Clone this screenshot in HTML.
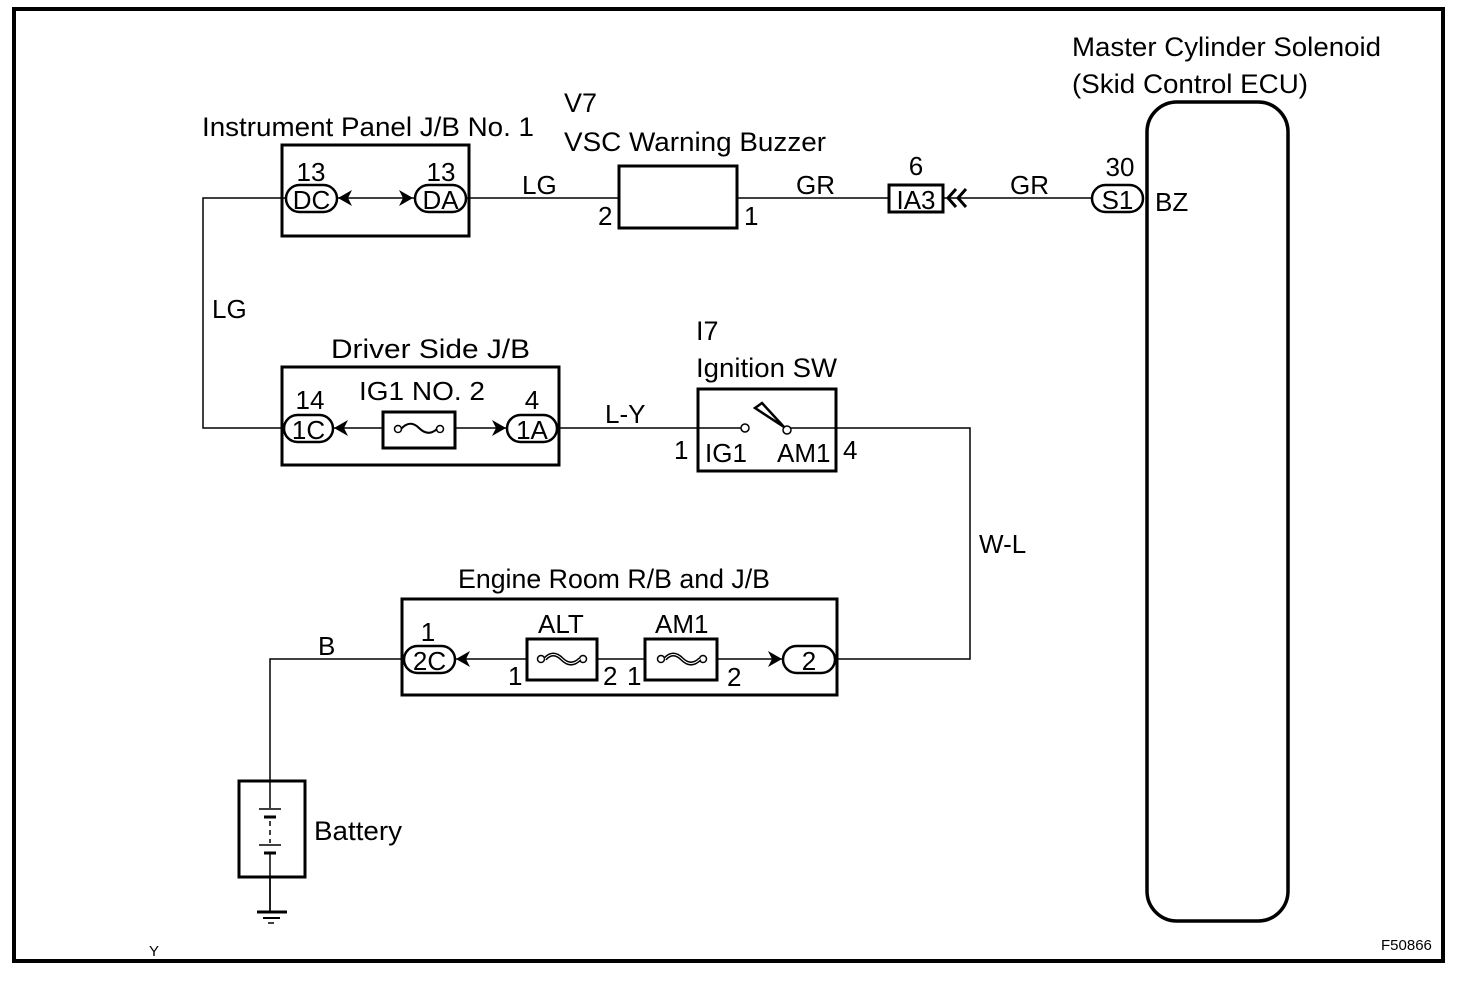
<!DOCTYPE html>
<html><head><meta charset="utf-8"><style>
html,body{margin:0;padding:0;background:#fff;}
svg{display:block;}
text{font-family:"Liberation Sans",sans-serif;fill:#000;}
</style></head><body>
<svg width="1472" height="984" viewBox="0 0 1472 984" xmlns="http://www.w3.org/2000/svg">
<rect x="14" y="9" width="1429" height="952" fill="none" stroke="#000" stroke-width="4"/>

<g stroke="#000" stroke-width="1.5" fill="none">
<polyline points="286,198 203,198 203,428 284,428"/>
<line x1="337" y1="198" x2="415" y2="198"/>
<line x1="466" y1="198" x2="619" y2="198"/>
<line x1="737" y1="198" x2="889" y2="198"/>
<line x1="943" y1="198" x2="1092" y2="198"/>
<line x1="333" y1="428" x2="507" y2="428"/>
<line x1="557" y1="428" x2="745" y2="428"/>
<polyline points="787,428 970,428 970,659 835,659"/>
<line x1="455" y1="659" x2="783" y2="659"/>
<polyline points="404,659 270,659 270,912"/>
</g>

<!-- Instrument panel JB -->
<rect x="282" y="145" width="187" height="91" fill="none" stroke="#000" stroke-width="3"/>
<text x="202" y="136" font-size="27" textLength="332" lengthAdjust="spacingAndGlyphs">Instrument Panel J/B No. 1</text>
<rect x="286" y="185" width="51" height="27" rx="13.5" fill="#fff" stroke="#000" stroke-width="2.5"/>
<text x="311.5" y="209" font-size="26" text-anchor="middle">DC</text>
<text x="311" y="181" font-size="26" text-anchor="middle">13</text>
<rect x="415" y="185" width="51" height="27" rx="13.5" fill="#fff" stroke="#000" stroke-width="2.5"/>
<text x="440.5" y="209" font-size="26" text-anchor="middle">DA</text>
<text x="441" y="181" font-size="26" text-anchor="middle">13</text>
<polygon points="338,198 352,190 348,198 352,206" fill="#000"/>
<polygon points="413,198 399,190 403,198 399,206" fill="#000"/>
<text x="522" y="194" font-size="26">LG</text>

<!-- Buzzer -->
<text x="564" y="112" font-size="27">V7</text>
<text x="564" y="151" font-size="27" textLength="262" lengthAdjust="spacingAndGlyphs">VSC Warning Buzzer</text>
<rect x="619" y="166" width="118" height="62" fill="#fff" stroke="#000" stroke-width="3"/>
<text x="598" y="225" font-size="26">2</text>
<text x="744" y="225" font-size="26">1</text>
<text x="796" y="194" font-size="26">GR</text>

<!-- IA3 -->
<rect x="889" y="185" width="54" height="27" fill="#fff" stroke="#000" stroke-width="3"/>
<text x="916" y="209" font-size="26" text-anchor="middle">IA3</text>
<text x="916" y="175" font-size="26" text-anchor="middle">6</text>
<polyline points="956,189 948,198 956,207" fill="none" stroke="#000" stroke-width="3"/>
<polyline points="966,189 958,198 966,207" fill="none" stroke="#000" stroke-width="3"/>
<text x="1010" y="194" font-size="26">GR</text>

<!-- S1 & ECU -->
<text x="1072" y="56" font-size="27" textLength="309" lengthAdjust="spacingAndGlyphs">Master Cylinder Solenoid</text>
<text x="1072" y="93" font-size="27" textLength="236" lengthAdjust="spacingAndGlyphs">(Skid Control ECU)</text>
<rect x="1147" y="102" width="141" height="819" rx="30" fill="none" stroke="#000" stroke-width="3.5"/>
<rect x="1092" y="185" width="51" height="27" rx="13.5" fill="#fff" stroke="#000" stroke-width="2.5"/>
<text x="1117.5" y="209" font-size="26" text-anchor="middle">S1</text>
<text x="1120" y="176" font-size="26" text-anchor="middle">30</text>
<text x="1155" y="211" font-size="26">BZ</text>

<text x="212" y="318" font-size="26">LG</text>

<!-- Driver side JB -->
<text x="331" y="358" font-size="27" textLength="199" lengthAdjust="spacingAndGlyphs">Driver Side J/B</text>
<rect x="282" y="367" width="277" height="98" fill="none" stroke="#000" stroke-width="3"/>
<rect x="284" y="415" width="49" height="27" rx="13.5" fill="#fff" stroke="#000" stroke-width="2.5"/>
<text x="308.5" y="439" font-size="26" text-anchor="middle">1C</text>
<text x="310" y="409" font-size="26" text-anchor="middle">14</text>
<polygon points="334,428 348,420 344,428 348,436" fill="#000"/>
<text x="359" y="400" font-size="26" textLength="126" lengthAdjust="spacingAndGlyphs">IG1 NO. 2</text>
<rect x="383" y="412" width="72" height="36" fill="#fff" stroke="#000" stroke-width="3"/>
<circle cx="398" cy="429" r="3.5" fill="#fff" stroke="#000" stroke-width="1.5"/>
<circle cx="440" cy="429" r="3.5" fill="#fff" stroke="#000" stroke-width="1.5"/>
<path d="M401,429 Q410,419 419,428 Q428,437 437,429" fill="none" stroke="#000" stroke-width="2"/>
<polygon points="506,428 492,420 496,428 492,436" fill="#000"/>
<rect x="507" y="415" width="50" height="27" rx="13.5" fill="#fff" stroke="#000" stroke-width="2.5"/>
<text x="532" y="439" font-size="26" text-anchor="middle">1A</text>
<text x="532" y="409" font-size="26" text-anchor="middle">4</text>
<text x="605" y="423" font-size="26">L-Y</text>

<!-- Ignition SW -->
<text x="696" y="340" font-size="27">I7</text>
<text x="696" y="377" font-size="27" textLength="141" lengthAdjust="spacingAndGlyphs">Ignition SW</text>
<rect x="698" y="389" width="138" height="82" fill="none" stroke="#000" stroke-width="3"/>
<circle cx="745" cy="428" r="4" fill="#fff" stroke="#000" stroke-width="1.5"/>
<circle cx="787" cy="430" r="4" fill="#fff" stroke="#000" stroke-width="1.5"/>
<polygon points="755,408 762,403 784,427" fill="#fff" stroke="#000" stroke-width="2.5"/>
<text x="674" y="459" font-size="26">1</text>
<text x="705" y="462" font-size="26">IG1</text>
<text x="777" y="462" font-size="26">AM1</text>
<text x="843" y="459" font-size="26">4</text>
<text x="979" y="553" font-size="26">W-L</text>

<!-- Engine room -->
<text x="458" y="588" font-size="27" textLength="312" lengthAdjust="spacingAndGlyphs">Engine Room R/B and J/B</text>
<rect x="402" y="599" width="435" height="96" fill="none" stroke="#000" stroke-width="3"/>
<rect x="404" y="646" width="51" height="27" rx="13.5" fill="#fff" stroke="#000" stroke-width="2.5"/>
<text x="429.5" y="670" font-size="26" text-anchor="middle">2C</text>
<text x="428" y="641" font-size="26" text-anchor="middle">1</text>
<polygon points="456,659 470,651 466,659 470,667" fill="#000"/>
<text x="538" y="633" font-size="26">ALT</text>
<rect x="527" y="639" width="70" height="41" fill="#fff" stroke="#000" stroke-width="3"/>
<circle cx="541" cy="659" r="3.5" fill="#fff" stroke="#000" stroke-width="1.5"/>
<circle cx="583" cy="659" r="3.5" fill="#fff" stroke="#000" stroke-width="1.5"/>
<path d="M545,659 Q553,650 562,659 Q571,668 580,659" fill="none" stroke="#000" stroke-width="4"/>
<path d="M545,659 Q553,650 562,659 Q571,668 580,659" fill="none" stroke="#fff" stroke-width="1"/>
<text x="655" y="633" font-size="26">AM1</text>
<rect x="645" y="639" width="72" height="41" fill="#fff" stroke="#000" stroke-width="3"/>
<circle cx="661" cy="659" r="3.5" fill="#fff" stroke="#000" stroke-width="1.5"/>
<circle cx="703" cy="659" r="3.5" fill="#fff" stroke="#000" stroke-width="1.5"/>
<path d="M665,659 Q673,650 682,659 Q691,668 700,659" fill="none" stroke="#000" stroke-width="4"/>
<path d="M665,659 Q673,650 682,659 Q691,668 700,659" fill="none" stroke="#fff" stroke-width="1"/>
<text x="508" y="685" font-size="26">1</text>
<text x="603" y="685" font-size="26">2</text>
<text x="627" y="685" font-size="26">1</text>
<text x="727" y="686" font-size="26">2</text>
<polygon points="782,659 768,651 772,659 768,667" fill="#000"/>
<rect x="783" y="646" width="52" height="27" rx="13.5" fill="#fff" stroke="#000" stroke-width="2.5"/>
<text x="809" y="670" font-size="26" text-anchor="middle">2</text>
<text x="318" y="655" font-size="26">B</text>

<!-- Battery -->
<rect x="239" y="781" width="66" height="96" fill="#fff" stroke="#000" stroke-width="3"/>
<line x1="270" y1="781" x2="270" y2="808" stroke="#000" stroke-width="1.5"/>
<line x1="259" y1="809" x2="281" y2="809" stroke="#000" stroke-width="1.5"/>
<line x1="264" y1="817" x2="276" y2="817" stroke="#000" stroke-width="3"/>
<line x1="270" y1="821" x2="270" y2="843" stroke="#000" stroke-width="1.5" stroke-dasharray="5,4"/>
<line x1="259" y1="845" x2="281" y2="845" stroke="#000" stroke-width="1.5"/>
<line x1="264" y1="853" x2="276" y2="853" stroke="#000" stroke-width="3"/>
<line x1="270" y1="853" x2="270" y2="912" stroke="#000" stroke-width="1.5"/>
<line x1="257" y1="912" x2="287" y2="912" stroke="#000" stroke-width="3"/>
<line x1="263" y1="918" x2="280" y2="918" stroke="#000" stroke-width="2"/>
<line x1="268" y1="923" x2="274" y2="923" stroke="#000" stroke-width="1.5"/>
<text x="314" y="840" font-size="27" textLength="88" lengthAdjust="spacingAndGlyphs">Battery</text>

<text x="149" y="956" font-size="15">Y</text>
<text x="1381" y="950" font-size="15">F50866</text>
</svg>
</body></html>
